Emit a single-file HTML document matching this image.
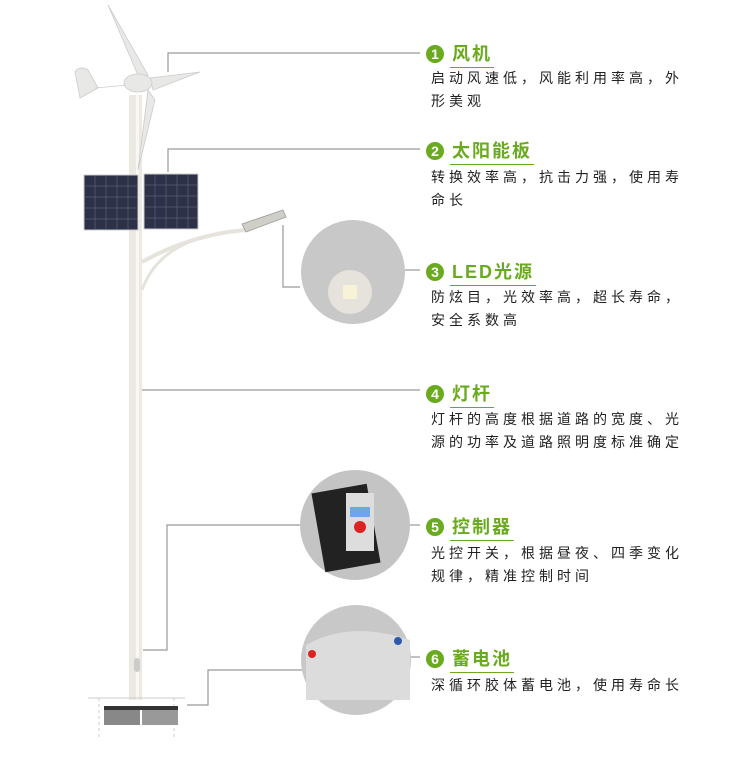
<!DOCTYPE html><html><head><meta charset="utf-8"><style>
body{margin:0;width:750px;height:760px;background:#fff;position:relative;overflow:hidden;font-family:"Liberation Sans","Noto Sans CJK SC",sans-serif}
.t{position:absolute;left:426px;display:flex;align-items:center}
.n{width:18px;height:18px;border-radius:50%;background:#6aaa1e;color:#fff;font-weight:bold;font-size:14px;line-height:18px;text-align:center;margin-right:6px}
.h{color:#6aaa1e;font-weight:bold;font-size:18px;border-bottom:1px solid #6aaa1e;padding:0 2px 1px 2px;letter-spacing:2px}
.d{position:absolute;left:431px;font-size:14px;line-height:23px;color:#222;letter-spacing:4px;width:256px}
</style></head><body>
<svg width="750" height="760" style="position:absolute;left:0;top:0">
<g stroke="#999" fill="none" stroke-width="1.2">
<polyline points="168,72 168,53 420,53"/>
<polyline points="168,172 168,149 420,149"/>
<polyline points="283,225 283,287 300,287"/>
<line x1="405" y1="270" x2="420" y2="270"/>
<line x1="142" y1="390" x2="420" y2="390"/>
<polyline points="143,650 167,650 167,525 300,525"/>
<line x1="410" y1="525" x2="420" y2="525"/>
<polyline points="187,705 208,705 208,670 303,670"/>
<line x1="410" y1="657" x2="420" y2="657"/>
</g>
<rect x="129" y="95" width="13" height="605" fill="#ece9e2"/>
<rect x="136" y="95" width="3" height="605" fill="#f8f7f3"/>
<rect x="134" y="658" width="6" height="14" rx="3" fill="#ccc"/>
<g fill="#e8e8e6" stroke="#ccc" stroke-width=".8">
<path d="M108,5 L148,75 L140,80 Z"/>
<path d="M150,78 L200,72 L153,90 Z"/>
<path d="M148,90 L155,100 L138,170 Z"/>
<path d="M75,72 Q80,65 88,70 L98,88 L80,98 Z"/>
<line x1="95" y1="88" x2="128" y2="85"/>
<ellipse cx="138" cy="83" rx="14" ry="9"/>
</g>
<path d="M142,262 Q190,235 245,230" stroke="#e5e3dc" stroke-width="4" fill="none"/>
<path d="M142,290 Q160,240 230,232" stroke="#e5e3dc" stroke-width="3" fill="none"/>
<path d="M242,224 L283,210 L286,217 L246,232 Z" fill="#cfcfc8" stroke="#999" stroke-width=".8"/>
<g fill="#2c3148" stroke="#ccc">
<rect x="84" y="175" width="54" height="55"/>
<rect x="144" y="174" width="54" height="55"/>
</g>
<g stroke="#6a7088" stroke-width=".5">
<path d="M84,186H138M84,197H138M84,208H138M84,219H138M95,175V230M106,175V230M117,175V230M128,175V230"/>
<path d="M144,185H198M144,196H198M144,207H198M144,218H198M155,174V229M166,174V229M177,174V229M188,174V229"/>
</g>
<circle cx="353" cy="272" r="52" fill="#c8c8c8"/>
<circle cx="350" cy="292" r="22" fill="#e6e2dc"/>
<rect x="343" y="285" width="14" height="14" fill="#f8f3d6"/>
<circle cx="355" cy="525" r="55" fill="#c4c4c4"/>
<rect x="318" y="488" width="56" height="80" fill="#222" transform="rotate(-10 346 528)"/>
<rect x="346" y="493" width="28" height="58" fill="#ddd"/>
<rect x="350" y="507" width="20" height="10" fill="#6fa6e6"/>
<circle cx="360" cy="527" r="6" fill="#d22"/>
<circle cx="356" cy="660" r="55" fill="#c8c8c8"/>
<path d="M306,645 Q350,620 410,640 L410,700 L306,700Z" fill="#dcdcdc"/>
<circle cx="312" cy="654" r="4" fill="#d22"/>
<circle cx="398" cy="641" r="4" fill="#2a5ab0"/>
<line x1="88" y1="698" x2="185" y2="698" stroke="#ccc"/>
<g stroke="#ccc" stroke-dasharray="3,3"><line x1="99" y1="698" x2="99" y2="738"/><line x1="174" y1="698" x2="174" y2="738"/></g>
<rect x="104" y="708" width="36" height="17" fill="#888"/>
<rect x="142" y="708" width="36" height="17" fill="#999"/>
<rect x="104" y="706" width="74" height="4" fill="#333"/>
</svg>
<div class="t" style="top:40px"><span class="n">1</span><span class="h">风机</span></div>
<div class="d" style="top:67px">启动风速低，风能利用率高，外形美观</div>
<div class="t" style="top:137px"><span class="n">2</span><span class="h">太阳能板</span></div>
<div class="d" style="top:166px">转换效率高，抗击力强，使用寿命长</div>
<div class="t" style="top:258px"><span class="n">3</span><span class="h">LED光源</span></div>
<div class="d" style="top:286px">防炫目，光效率高，超长寿命，安全系数高</div>
<div class="t" style="top:380px"><span class="n">4</span><span class="h">灯杆</span></div>
<div class="d" style="top:408px">灯杆的高度根据道路的宽度、光源的功率及道路照明度标准确定</div>
<div class="t" style="top:513px"><span class="n">5</span><span class="h">控制器</span></div>
<div class="d" style="top:542px">光控开关，根据昼夜、四季变化规律，精准控制时间</div>
<div class="t" style="top:645px"><span class="n">6</span><span class="h">蓄电池</span></div>
<div class="d" style="top:674px">深循环胶体蓄电池，使用寿命长</div>
</body></html>
